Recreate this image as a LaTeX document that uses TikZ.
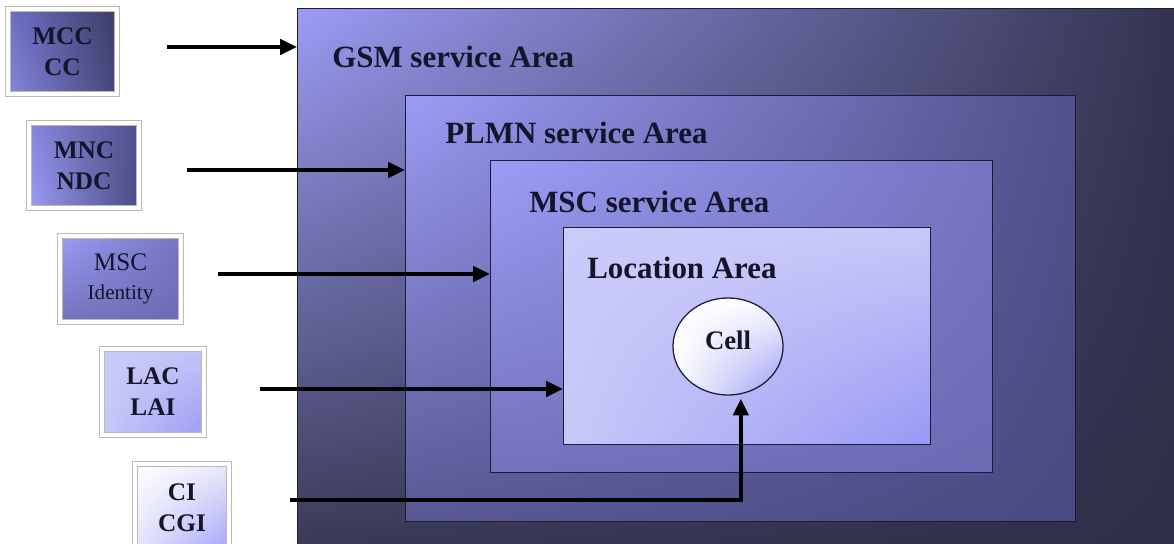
\documentclass[tikz,border=0pt]{standalone}
\usepackage{fontspec}
\setmainfont{Liberation Serif}
\usetikzlibrary{arrows.meta,positioning,shapes.geometric,shadings}
\definecolor{ink}{HTML}{14142A}
\definecolor{frame}{HTML}{1C1C3A}
\definecolor{peri}{HTML}{9C9CF5}
\definecolor{night}{HTML}{2E2E48}
\definecolor{dusk}{HTML}{35354F}
\definecolor{plmnR}{HTML}{50508A}
\definecolor{plmnB}{HTML}{585894}
\definecolor{plmnC}{HTML}{4A4A82}
\definecolor{mscR}{HTML}{7474C0}
\definecolor{mscB}{HTML}{7272BC}
\definecolor{mscC}{HTML}{6C6CB5}
\definecolor{lavA}{HTML}{CBCBFA}
\definecolor{lavB}{HTML}{C8C8F8}
\definecolor{lavC}{HTML}{9898F5}
\definecolor{mccA}{HTML}{6E6EC4}
\definecolor{mccB}{HTML}{8686DE}
\definecolor{mccC}{HTML}{3C3C66}
\definecolor{mccD}{HTML}{45457A}
\tikzset{
  >={Triangle[length=4.2mm,width=3.8mm]},
  area/.style={draw=frame,line width=.9pt,anchor=north west,inner sep=0pt},
  areatitle/.style={font=\fontsize{22}{26}\selectfont\bfseries,text=ink,anchor=base west,inner sep=0pt},
  idbox/.style={draw=gray!55,double=white,double distance=2.6pt,line width=.5pt,inner sep=0pt,
    align=center,text=ink,font=\fontsize{18}{22}\selectfont\bfseries},
  link/.style={->,line width=2.8pt,color=black},
}

\begin{document}
\begin{tikzpicture}[x=0.025cm,y=-0.025cm]
  \useasboundingbox (0,0) rectangle (1174,544);
  \node[area,minimum width=23cm,minimum height=14cm,
    upper left=peri,upper right=night,lower left=dusk,lower right=night] (gsm) at (297,8) {};
  \node[area,minimum width=16.75cm,minimum height=10.65cm,
    upper left=peri,upper right=plmnR,lower left=plmnB,lower right=plmnC] (plmn) at (405,95) {};
  \node[area,minimum width=12.55cm,minimum height=7.8cm,
    upper left=peri,upper right=mscR,lower left=mscB,lower right=mscC] (msc) at (490,160) {};
  \node[area,minimum width=9.175cm,minimum height=5.425cm,
    upper left=lavA,upper right=lavB,lower left=lavB,lower right=lavC] (la) at (563,227) {};
  \node[ellipse,draw=frame,line width=.9pt,minimum width=2.75cm,minimum height=2.425cm,
    upper left=white,upper right=white,lower left=white,lower right=lavC] (cell) at (728,346.5) {};
  \node[areatitle] (gsmtxt) at (332,68) {GSM service Area};
  \node[areatitle] (plmntxt) at (445,144) {PLMN service Area};
  \node[areatitle] (msctxt) at (529,212) {MSC service Area};
  \node[areatitle] (latxt) at (587,278) {Location Area};
  \node[font=\fontsize{19}{23}\selectfont\bfseries,text=ink,anchor=base,inner sep=0pt] (celltxt) at (728,349) {Cell};

  \node[idbox,minimum width=2.725cm,minimum height=2.125cm,
    upper left=mccA,upper right=mccC,lower left=mccB,lower right=mccD] (mcc) at (62.5,51.5) {MCC\\CC};
  \node[idbox,minimum width=2.75cm,minimum height=2.125cm,
    upper left=mccB,upper right=plmnR,lower left=peri,lower right=plmnC] (mnc) at (84,165.5) {MNC\\NDC};
  \node[idbox,minimum width=3.025cm,minimum height=2.15cm,font=\fontsize{18}{21}\selectfont,
    upper left=peri,upper right=mscR,lower left=mscB,lower right=mscC] (mscid) at (120.5,279) {MSC\\{\fontsize{15}{18}\selectfont Identity}};
  \node[idbox,minimum width=2.55cm,minimum height=2.15cm,
    upper left=lavA,upper right=lavB!90!peri,lower left=lavB,lower right=peri] (lac) at (153,392) {LAC\\LAI};
  \node[idbox,minimum width=2.35cm,minimum height=2.2cm,
    upper left=white,upper right=lavB!40,lower left=lavB!50,lower right=lavC!90] (ci) at (182,508) {CI\\CGI};

  \coordinate (a1) at (167,47);
  \coordinate (a2) at (187,170);
  \coordinate (a3) at (218,274);
  \coordinate (a4) at (260,389);
  \coordinate (a5) at (290,500);
  \draw[link] (a1) -- (a1 -| gsm.west);
  \draw[link] (a2) -- (a2 -| plmn.west);
  \draw[link] (a3) -- (a3 -| msc.west);
  \draw[link] (a4) -- (a4 -| la.west);
  \draw[link] (a5) -| ([yshift=-3pt]cell.-75);
\end{tikzpicture}
\end{document}
